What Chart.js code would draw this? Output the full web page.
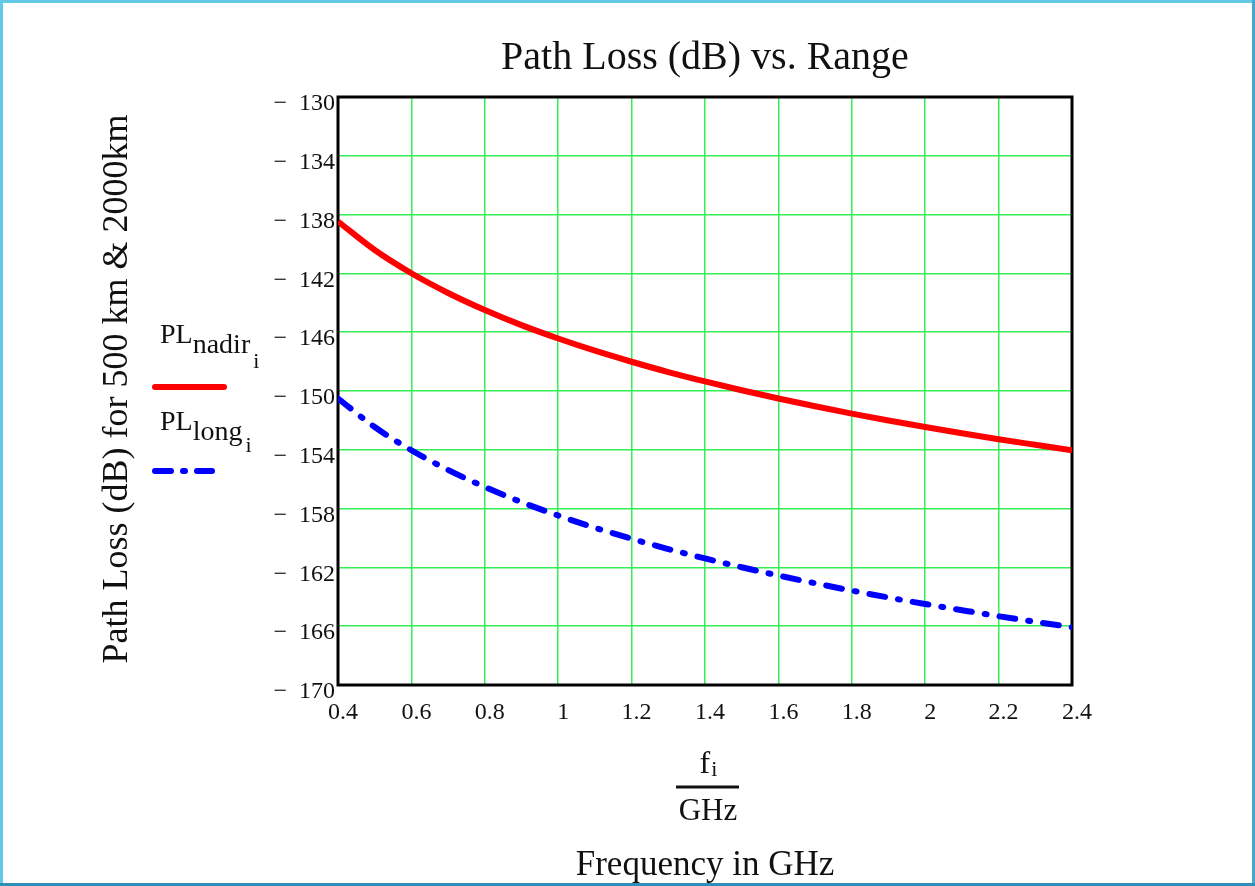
<!DOCTYPE html>
<html>
<head>
<meta charset="utf-8">
<script src="https://cdn.jsdelivr.net/npm/chart.js@4.4.0/dist/chart.umd.min.js"></script>
<style>
  html, body { margin: 0; padding: 0; background: #ffffff; }
  #wrap { width: 1255px; height: 886px; position: relative; }
  canvas { display: block; }
</style>
</head>
<body>
<div id="wrap"><canvas id="c" width="1255" height="886"></canvas></div>
<script>
// Frequency in GHz (x values)
const freqGHz = [0.4, 0.5, 0.6, 0.7, 0.8, 0.9, 1.0, 1.1, 1.2, 1.3, 1.4, 1.5, 1.6, 1.7, 1.8, 1.9, 2.0, 2.1, 2.2, 2.3, 2.4];
// Path loss, 500 km (nadir), dB
const plNadir = [-138.47, -140.41, -141.99, -143.33, -144.49, -145.52, -146.43, -147.26, -148.01, -148.71, -149.35, -149.95, -150.51, -151.04, -151.54, -152.01, -152.45, -152.87, -153.28, -153.66, -154.03];
// Path loss, 2000 km (long), dB
const plLong = [-150.51, -152.45, -154.03, -155.37, -156.53, -157.56, -158.47, -159.30, -160.05, -160.75, -161.39, -161.99, -162.55, -163.08, -163.58, -164.05, -164.49, -164.91, -165.32, -165.70, -166.07];
// Axis ranges / ticks
const yTicks = [-170, -166, -162, -158, -154, -150, -146, -142, -138, -134, -130];
const xTicks = [0.4, 0.6, 0.8, 1.0, 1.2, 1.4, 1.6, 1.8, 2.0, 2.2, 2.4];

const SERIF = '"Liberation Serif", "Times New Roman", Times, serif';
const GRID = '#33ee55';

const decorPlugin = {
  id: 'decor',
  beforeDraw(chart) {
    const ctx = chart.ctx;
    ctx.save();
    ctx.fillStyle = '#ffffff';
    ctx.fillRect(0, 0, chart.width, chart.height);
    ctx.restore();
  },
  beforeDatasetsDraw(chart) {
    const ctx = chart.ctx, a = chart.chartArea;
    ctx.save();
    ctx.strokeStyle = '#000000';
    ctx.lineWidth = 3;
    ctx.strokeRect(a.left, a.top, a.right - a.left, a.bottom - a.top);
    ctx.restore();
  },
  afterDraw(chart) {
    const ctx = chart.ctx, a = chart.chartArea;
    const cx = (a.left + a.right) / 2;
    ctx.save();
    ctx.fillStyle = '#111111';
    ctx.textBaseline = 'alphabetic';

    // Title
    ctx.font = '40px ' + SERIF;
    ctx.textAlign = 'center';
    ctx.fillText('Path Loss (dB) vs. Range', cx, 69);

    // Y axis title (rotated)
    ctx.save();
    ctx.translate(127, 389);
    ctx.rotate(-Math.PI / 2);
    ctx.font = '36px ' + SERIF;
    ctx.textAlign = 'center';
    ctx.fillText('Path Loss (dB) for 500 km & 2000km', 0, 0);
    ctx.restore();

    // Legend
    ctx.textAlign = 'left';
    function subLabel(x, base, main, sub, sub2, b1, b2) {
      ctx.font = '28px ' + SERIF;
      ctx.fillText(main, x, base);
      let w = ctx.measureText(main).width;
      ctx.font = '28px ' + SERIF;
      ctx.fillText(sub, x + w, base + b1);
      let w2 = ctx.measureText(sub).width;
      ctx.font = '22px ' + SERIF;
      ctx.fillText(sub2, x + w + w2 + 3, base + b2);
    }
    subLabel(160, 343, 'PL', 'nadir', 'i', 10, 25);
    subLabel(160, 430, 'PL', 'long', 'i', 10, 22);

    ctx.lineCap = 'round';
    ctx.lineWidth = 6;
    ctx.strokeStyle = '#ff0000';
    ctx.beginPath(); ctx.moveTo(155, 387); ctx.lineTo(224, 387); ctx.stroke();
    ctx.strokeStyle = '#0000ff';
    ctx.setLineDash([16, 12, 2, 12]);
    ctx.beginPath(); ctx.moveTo(155, 471); ctx.lineTo(212, 471); ctx.stroke();
    ctx.setLineDash([]);

    // X axis title (fraction + text)
    ctx.font = '32px ' + SERIF;
    ctx.textAlign = 'left';
    const fw = ctx.measureText('f').width;
    ctx.font = '22px ' + SERIF;
    const iw = ctx.measureText('i').width;
    const fx = 708 - (fw + iw) / 2;
    ctx.font = '32px ' + SERIF;
    ctx.fillText('f', fx, 773);
    ctx.font = '22px ' + SERIF;
    ctx.fillText('i', fx + fw + 1, 776);
    ctx.strokeStyle = '#111111';
    ctx.lineWidth = 3;
    ctx.lineCap = 'butt';
    ctx.beginPath(); ctx.moveTo(676, 787); ctx.lineTo(739, 787); ctx.stroke();
    ctx.font = '31px ' + SERIF;
    ctx.textAlign = 'center';
    ctx.fillText('GHz', 708, 820);
    ctx.font = '35px ' + SERIF;
    ctx.fillText('Frequency in GHz', 705, 875);

    // Page border
    ctx.fillStyle = '#62c9e6';
    ctx.fillRect(0, 0, chart.width, 3);
    ctx.fillRect(0, 0, 3, chart.height);
    ctx.fillStyle = '#45a8d0';
    ctx.fillRect(chart.width - 3, 0, 3, chart.height);
    ctx.fillStyle = '#2f8fb8';
    ctx.fillRect(0, chart.height - 3, chart.width, 3);
    ctx.restore();
  }
};

new Chart(document.getElementById('c'), {
  type: 'line',
  data: {
    datasets: [
      {
        label: 'PL nadir',
        data: freqGHz.map((f, i) => ({ x: f, y: plNadir[i] })),
        borderColor: '#ff0000',
        borderWidth: 6,
        pointRadius: 0,
        cubicInterpolationMode: 'monotone',
        fill: false
      },
      {
        label: 'PL long',
        data: freqGHz.map((f, i) => ({ x: f, y: plLong[i] })),
        borderColor: '#0000ff',
        borderWidth: 6,
        borderDash: [16, 13, 2, 13],
        borderCapStyle: 'round',
        pointRadius: 0,
        cubicInterpolationMode: 'monotone',
        fill: false
      }
    ]
  },
  options: {
    responsive: false,
    animation: false,
    devicePixelRatio: 1,
    layout: { padding: { top: 97, right: 183, left: 238, bottom: 141 } },
    plugins: { legend: { display: false }, title: { display: false }, tooltip: { enabled: false } },
    scales: {
      x: {
        type: 'linear',
        min: xTicks[0],
        max: xTicks[xTicks.length - 1],
        afterBuildTicks(s) { s.ticks = xTicks.map(v => ({ value: v })); },
        afterFit(s) { s.height = 60; },
        ticks: {
          callback: v => String(+(+v).toFixed(1)),
          font: { family: SERIF, size: 24 },
          color: '#111111',
          padding: 13,
          labelOffset: 5,
          maxRotation: 0,
          autoSkip: false
        },
        grid: { color: GRID, lineWidth: 1.5, drawTicks: false },
        border: { display: false }
      },
      y: {
        type: 'linear',
        min: yTicks[0],
        max: yTicks[yTicks.length - 1],
        afterBuildTicks(s) { s.ticks = yTicks.map(v => ({ value: v })); },
        afterFit(s) { s.width = 100; },
        ticks: {
          callback: v => '\u2212  ' + Math.abs(v),
          font: { family: SERIF, size: 24 },
          color: '#111111',
          padding: 3,
          labelOffset: 7,
          autoSkip: false
        },
        grid: { color: GRID, lineWidth: 1.5, drawTicks: false },
        border: { display: false }
      }
    }
  },
  plugins: [decorPlugin]
});
</script>
</body>
</html>
